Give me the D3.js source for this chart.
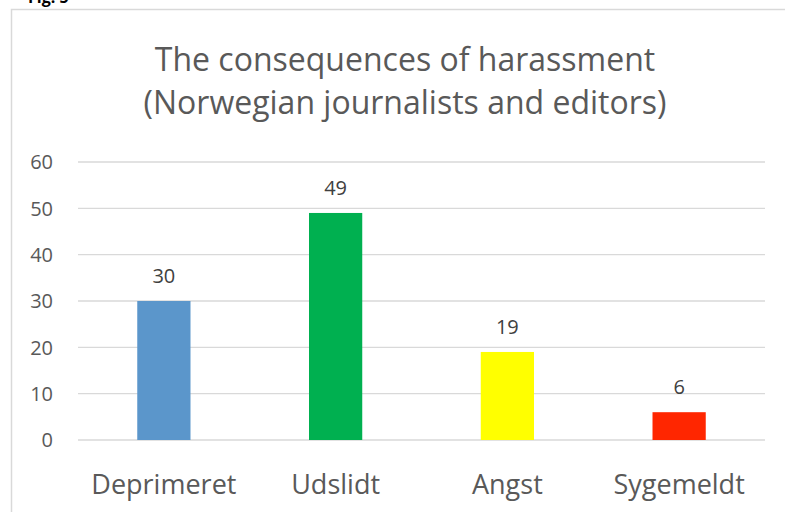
<!DOCTYPE html>
<html><head><meta charset="utf-8">
<script src="https://cdn.jsdelivr.net/npm/d3@7"></script>
<style>body{margin:0;background:#fff}svg{display:block}</style>
</head><body>
<script>
const categories = ["Deprimeret", "Udslidt", "Angst", "Sygemeldt"];
const values = [30, 49, 19, 6];
const colors = ["#5B96CB", "#00B050", "#FFFF00", "#FF2600"];
const yTicks = [0, 10, 20, 30, 40, 50, 60];
const titleLines = ["The consequences of harassment", "(Norwegian journalists and editors)"];

const W = 785, H = 512;
const svg = d3.select("body").append("svg").attr("width", W).attr("height", H);
const font = "'Open Sans', 'Liberation Sans', sans-serif";

svg.append("text").attr("x", 28).attr("y", 3).attr("font-family", font)
  .attr("font-weight", "bold").attr("font-size", 16).attr("fill", "#000").text("Fig. 5");

svg.append("rect").attr("x", 11.5).attr("y", 9.5).attr("width", 800).attr("height", 520)
  .attr("fill", "#fff").attr("stroke", "#d9d9d9").attr("stroke-width", 1.5);

const x = d3.scaleBand().domain(categories).range([78, 765]).paddingInner(0.69).paddingOuter(0.345);
const y = d3.scaleLinear().domain([0, 60]).range([440, 162]);

const g = svg.append("g");
g.selectAll("line.grid").data(yTicks).join("line").attr("class", "grid")
  .attr("x1", 78).attr("x2", 765).attr("y1", d => y(d)).attr("y2", d => y(d))
  .attr("stroke", "#d9d9d9").attr("stroke-width", 1.3);

g.selectAll("text.yt").data(yTicks).join("text").attr("class", "yt")
  .attr("x", 53).attr("y", d => y(d)).attr("dy", "0.36em").attr("text-anchor", "end")
  .attr("font-family", font).attr("font-size", 20).attr("fill", "#595959").text(d => d);

g.selectAll("rect.bar").data(values).join("rect").attr("class", "bar")
  .attr("x", (d, i) => x(categories[i])).attr("width", x.bandwidth())
  .attr("y", d => y(d)).attr("height", d => y(0) - y(d))
  .attr("fill", (d, i) => colors[i]);

g.selectAll("text.val").data(values).join("text").attr("class", "val")
  .attr("x", (d, i) => x(categories[i]) + x.bandwidth() / 2).attr("y", d => y(d) - 18)
  .attr("text-anchor", "middle").attr("font-family", font).attr("font-size", 20)
  .attr("fill", "#404040").text(d => d);

g.selectAll("text.cat").data(categories).join("text").attr("class", "cat")
  .attr("x", d => x(d) + x.bandwidth() / 2).attr("y", 494)
  .attr("text-anchor", "middle").attr("font-family", font).attr("font-size", 27)
  .attr("fill", "#595959").text(d => d);

svg.selectAll("text.title").data(titleLines).join("text").attr("class", "title")
  .attr("x", 405).attr("y", (d, i) => 71 + i * 43).attr("text-anchor", "middle")
  .attr("font-family", font).attr("font-size", 32).attr("fill", "#595959").text(d => d);
</script>
</body></html>
